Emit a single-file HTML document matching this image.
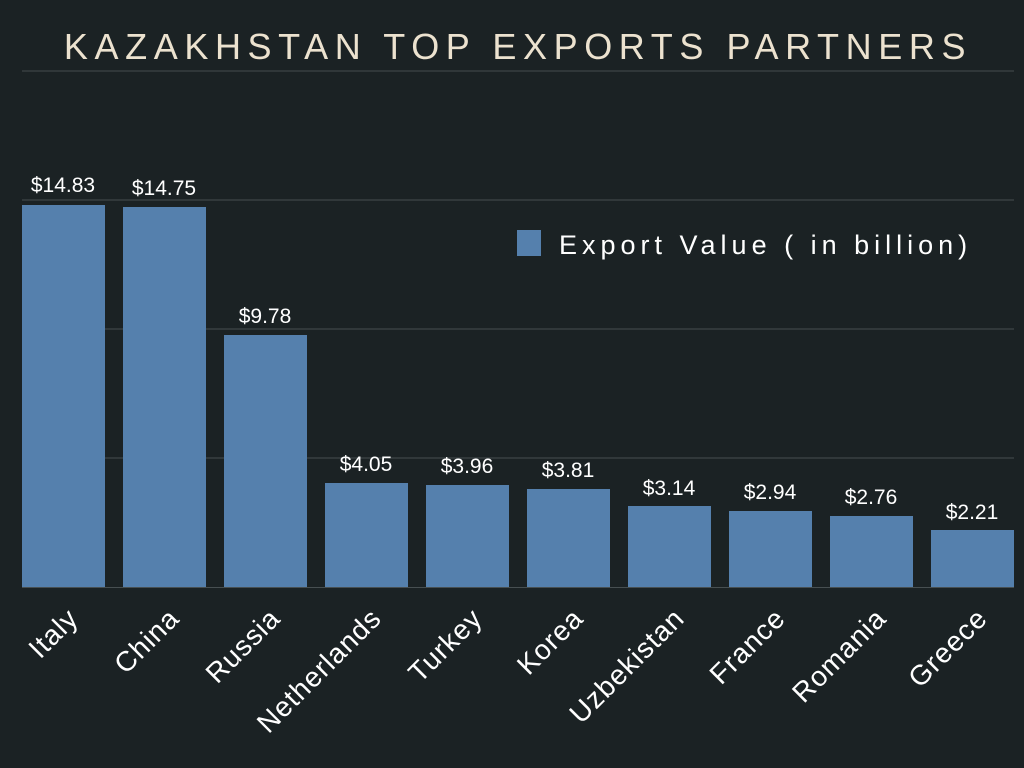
<!DOCTYPE html>
<html><head><meta charset="utf-8"><style>
body{margin:0;background:#1b2224;}
</style></head><body>
<svg width="1024" height="768" xmlns="http://www.w3.org/2000/svg" style="display:block">
<rect width="1024" height="768" fill="#1b2224"/>
<text x="518" y="59" text-anchor="middle" font-family="Liberation Sans, sans-serif" font-size="36" letter-spacing="6.6" fill="#ece2cf">KAZAKHSTAN TOP EXPORTS PARTNERS</text>
<line x1="22" y1="71" x2="1014" y2="71" stroke="#444c4e" stroke-width="1"/>
<g stroke="#474f51" stroke-width="1">
<line x1="22" y1="200" x2="1014" y2="200"/>
<line x1="22" y1="329" x2="1014" y2="329"/>
<line x1="22" y1="458" x2="1014" y2="458"/>
<line x1="22" y1="587.5" x2="1014" y2="587.5"/>
</g>
<g fill="#5580ad">
<rect x="22" y="205" width="83" height="382"/>
<rect x="123" y="207" width="83" height="380"/>
<rect x="224" y="335" width="83" height="252"/>
<rect x="325" y="483" width="83" height="104"/>
<rect x="426" y="485" width="83" height="102"/>
<rect x="527" y="489" width="83" height="98"/>
<rect x="628" y="506" width="83" height="81"/>
<rect x="729" y="511" width="83" height="76"/>
<rect x="830" y="516" width="83" height="71"/>
<rect x="931" y="530" width="83" height="57"/>
</g>
<g font-family="Liberation Sans, sans-serif" font-size="21" fill="#ffffff" text-anchor="middle">
<text x="63" y="192">$14.83</text>
<text x="164" y="195">$14.75</text>
<text x="265" y="323">$9.78</text>
<text x="366" y="471">$4.05</text>
<text x="467" y="473">$3.96</text>
<text x="568" y="477">$3.81</text>
<text x="669" y="495">$3.14</text>
<text x="770" y="499">$2.94</text>
<text x="871" y="504">$2.76</text>
<text x="972" y="519">$2.21</text>
</g>
<g font-family="Liberation Sans, sans-serif" font-size="28" letter-spacing="1" fill="#ffffff" text-anchor="end">
<text transform="translate(80,620) rotate(-45)">Italy</text>
<text transform="translate(181,620) rotate(-45)">China</text>
<text transform="translate(282,620) rotate(-45)">Russia</text>
<text transform="translate(383,620) rotate(-45)">Netherlands</text>
<text transform="translate(484,620) rotate(-45)">Turkey</text>
<text transform="translate(585,620) rotate(-45)">Korea</text>
<text transform="translate(686,620) rotate(-45)">Uzbekistan</text>
<text transform="translate(787,620) rotate(-45)">France</text>
<text transform="translate(888,620) rotate(-45)">Romania</text>
<text transform="translate(989,620) rotate(-45)">Greece</text>
</g>
<rect x="517" y="230" width="24" height="26" fill="#5580ad"/>
<text x="559" y="254" font-family="Liberation Sans, sans-serif" font-size="27" letter-spacing="5" fill="#ffffff">Export Value ( in billion)</text>
</svg>
</body></html>
